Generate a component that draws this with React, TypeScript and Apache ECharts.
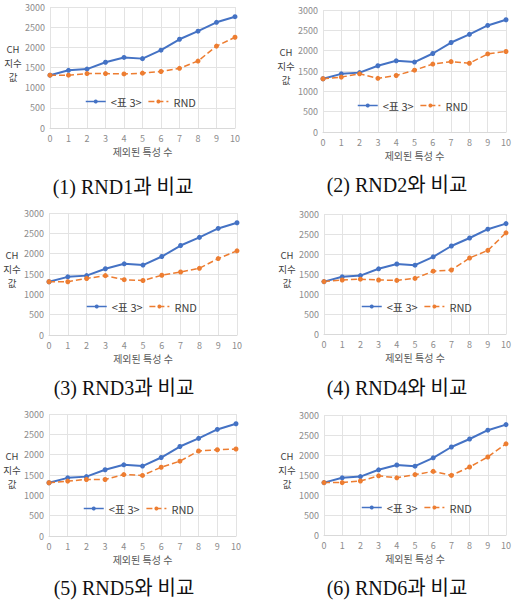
import React, { useEffect, useRef } from "react";
import * as echarts from "echarts";

const categories = ["0", "1", "2", "3", "4", "5", "6", "7", "8", "9", "10"];
const table3 = [1310, 1430, 1460, 1630, 1750, 1720, 1930, 2200, 2400, 2620, 2760];
const rnd1 = [1310, 1310, 1350, 1350, 1340, 1360, 1400, 1480, 1660, 2030, 2250];
const rnd2 = [1310, 1350, 1430, 1320, 1390, 1520, 1670, 1730, 1690, 1920, 1980];
const rnd3 = [1310, 1310, 1390, 1460, 1360, 1340, 1470, 1550, 1640, 1880, 2070];
const rnd4 = [1310, 1350, 1370, 1350, 1340, 1390, 1570, 1600, 1900, 2090, 2530];
const rnd5 = [1310, 1350, 1390, 1390, 1510, 1490, 1690, 1840, 2090, 2120, 2140];
const rnd6 = [1310, 1310, 1350, 1480, 1430, 1510, 1590, 1490, 1700, 1950, 2280];
const rndSeries = [rnd1, rnd2, rnd3, rnd4, rnd5, rnd6];
const captions = [
  "(1) RND1과 비교",
  "(2) RND2와 비교",
  "(3) RND3과 비교",
  "(4) RND4와 비교",
  "(5) RND5와 비교",
  "(6) RND6과 비교",
];
const seriesNames = ["<표 3>", "RND"];
const xAxisName = "제외된 특성 수";
const yAxisNameLines = ["CH", "지수", "값"];

const panels = [
  { left: 50, top: 7, width: 185, height: 121, capX: 123, capY: 187, legX: 85, legY: 103 },
  { left: 323, top: 10, width: 187, height: 122, capX: 397, capY: 185, legX: 357, legY: 107 },
  { left: 49, top: 213, width: 188, height: 122, capX: 124, capY: 388, legX: 86, legY: 308 },
  { left: 324, top: 214, width: 185, height: 120, capX: 397, capY: 388, legX: 361, legY: 308 },
  { left: 49, top: 414, width: 187, height: 122, capX: 124, capY: 588, legX: 83, legY: 510 },
  { left: 324, top: 415, width: 185, height: 120, capX: 397, capY: 588, legX: 361, legY: 509 },
];

const FONT = "'Noto Sans CJK KR', sans-serif";

export default function App() {
  const ref = useRef<HTMLDivElement>(null);
  useEffect(() => {
    if (!ref.current) return;
    const chart = echarts.init(ref.current, undefined, { renderer: "svg" });
    const grid: any[] = [];
    const xAxis: any[] = [];
    const yAxis: any[] = [];
    const series: any[] = [];
    const legend: any[] = [];
    const graphic: any[] = [];
    panels.forEach((p, i) => {
      grid.push({ left: p.left, top: p.top, width: p.width, height: p.height });
      xAxis.push({
        type: "category",
        gridIndex: i,
        data: categories,
        boundaryGap: false,
        axisLine: { lineStyle: { color: "#d9d9d9" } },
        axisTick: { show: false },
        axisLabel: { color: "#8c8c8c", fontSize: 9, margin: 6, fontFamily: FONT },
        splitLine: { show: true, lineStyle: { color: "#e3e3e3" } },
        name: xAxisName,
        nameLocation: "middle",
        nameGap: 18,
        nameTextStyle: { fontSize: 10, color: "#595959", fontFamily: FONT },
      });
      yAxis.push({
        type: "value",
        gridIndex: i,
        min: 0,
        max: 3000,
        interval: 500,
        axisLine: { show: false },
        axisTick: { show: false },
        axisLabel: {
          color: "#8c8c8c",
          fontSize: 9,
          margin: 5,
          fontFamily: FONT,
          formatter: (v: number) => String(v),
        },
        splitLine: { show: true, lineStyle: { color: "#e3e3e3" } },
      });
      series.push({
        name: seriesNames[0],
        type: "line",
        xAxisIndex: i,
        yAxisIndex: i,
        data: table3,
        symbol: "circle",
        symbolSize: 5,
        lineStyle: { color: "#4472C4", width: 2 },
        itemStyle: { color: "#4472C4" },
      });
      series.push({
        name: seriesNames[1],
        type: "line",
        xAxisIndex: i,
        yAxisIndex: i,
        data: rndSeries[i],
        symbol: "circle",
        symbolSize: 5,
        lineStyle: { color: "#ED7D31", width: 1.5, type: "dashed" },
        itemStyle: { color: "#ED7D31" },
      });
      legend.push({
        left: p.legX,
        top: p.legY - 7,
        data: seriesNames,
        itemWidth: 20,
        itemHeight: 5,
        itemGap: 6,
        padding: 0,
        lineStyle: { width: 1.5 },
        textStyle: { fontSize: 11, color: "#404040", fontFamily: FONT },
      });
      const nameCenterY = p.top + p.height * 0.46;
      yAxisNameLines.forEach((line, k) => {
        graphic.push({
          type: "text",
          x: p.left - 37,
          y: nameCenterY + (k - 1) * 14,
          style: {
            text: line,
            fontSize: 9.5,
            lineHeight: 11,
            fill: "#404040",
            align: "center",
            verticalAlign: "middle",
            fontFamily: FONT,
          },
        });
      });
      graphic.push({
        type: "text",
        x: p.capX,
        y: p.capY,
        style: {
          text: captions[i],
          fontSize: 20,
          fill: "#111",
          align: "center",
          verticalAlign: "middle",
          fontFamily: "'Liberation Serif', 'Noto Sans CJK KR', serif",
        },
      });
    });
    chart.setOption({
      animation: false,
      backgroundColor: "#fff",
      grid,
      xAxis,
      yAxis,
      series,
      legend,
      graphic,
    });
    return () => chart.dispose();
  }, []);
  return (
    <div
      ref={ref}
      style={{ position: "absolute", left: 0, top: 0, width: 514, height: 602 }}
    />
  );
}
